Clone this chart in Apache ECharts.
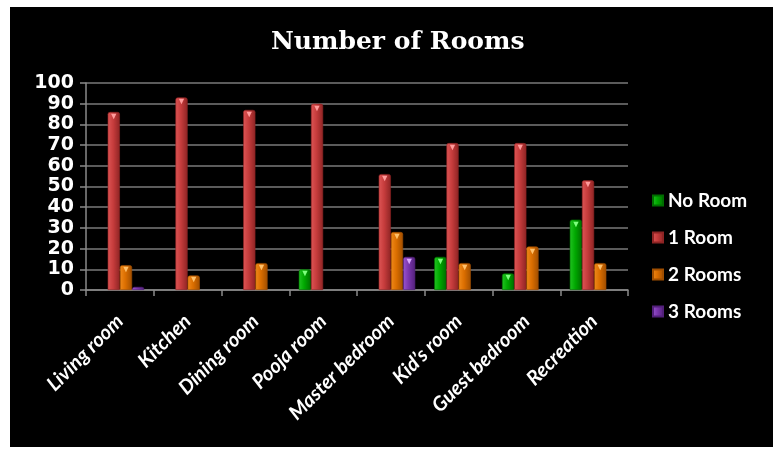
<!DOCTYPE html>
<html>
<head>
<meta charset="utf-8">
<style>
  html, body { margin: 0; padding: 0; background: #ffffff; width: 775px; height: 449px; overflow: hidden; }
  #chart { position: absolute; left: 10px; top: 7px; width: 763px; height: 440px; background: #000000; }
</style>
<script src="https://cdn.jsdelivr.net/npm/echarts@6/dist/echarts.min.js"></script>
</head>
<body>
<div id="chart"></div>
<script>
// Rooms surveyed and how many of each a home has
const categories = ['Living room', 'Kitchen', 'Dining room', 'Pooja room', 'Master bedroom', "Kid\u2019s room", 'Guest bedroom', 'Recreation'];
const noRoom    = [0, 0, 0, 10, 0, 16, 8, 34];
const oneRoom   = [86, 93, 87, 90, 56, 71, 71, 53];
const twoRooms  = [12, 7, 13, 0, 28, 13, 21, 13];
const threeRooms = [1.5, 0, 0, 0, 16, 0, 0, 0];
const yTicks = { min: 0, max: 100, interval: 10 };

// Offsets of the plot inside the black panel (panel starts at 10,7 in the page)
const OX = 10, OY = 7, PW = 763, PH = 440;

function shade(light, mid, dark) {
  return new echarts.graphic.LinearGradient(0, 0, 1, 0, [
    { offset: 0, color: light },
    { offset: 0.45, color: mid },
    { offset: 1, color: dark }
  ]);
}

function makeSeries(name, data, colors, capColor) {
  return {
    name: name,
    type: 'bar',
    // an empty count draws no bar at all
    data: data.map(v => (v === 0 ? '-' : v)),
    barGap: '0%',
    barCategoryGap: '28%',
    itemStyle: {
      color: shade(colors[0], colors[1], colors[2]),
      borderColor: colors[2],
      borderWidth: 0.6,
      borderRadius: [2, 2, 0, 0]
    },
    label: {
      show: true,
      position: 'insideTop',
      distance: 0,
      color: capColor,
      fontSize: 9,
      lineHeight: 9,
      formatter: p => (p.value >= 4 ? '\u25BC' : '')
    },
    emphasis: { disabled: true }
  };
}

const chart = echarts.init(document.getElementById('chart'), null, { renderer: 'canvas' });
chart.setOption({
  backgroundColor: '#000000',
  animation: false,
  title: {
    text: 'Number of Rooms',
    left: 271 - OX,
    top: 23,
    textStyle: { fontFamily: 'DejaVu Serif', fontWeight: 'bold', fontSize: 25, color: '#ffffff' },
    padding: 0
  },
  legend: {
    orient: 'vertical',
    left: 647 - OX,
    top: 186 - OY,
    itemWidth: 10,
    itemHeight: 10,
    itemGap: 18,
    icon: 'rect',
    textStyle: { color: '#ffffff', fontFamily: 'Lato', fontWeight: 'bold', fontSize: 19 },
    data: ['No Room', '1 Room', '2 Rooms', '3 Rooms']
  },
  grid: {
    left: 86 - OX,
    top: 83 - OY,
    right: (OX + PW) - 628,
    bottom: (OY + PH) - 290,
    containLabel: false
  },
  xAxis: {
    type: 'category',
    data: categories,
    axisLine: { lineStyle: { color: '#8a8a8a', width: 1.5 } },
    axisTick: { show: true, length: 6, lineStyle: { color: '#8a8a8a', width: 1.5 } },
    axisLabel: {
      rotate: 45,
      interval: 0,
      margin: 28,
      color: '#ffffff',
      fontFamily: 'Lato',
      fontStyle: 'italic',
      fontWeight: 'bold',
      fontSize: 20
    }
  },
  yAxis: {
    type: 'value',
    min: yTicks.min,
    max: yTicks.max,
    interval: yTicks.interval,
    axisLine: { show: true, lineStyle: { color: '#8a8a8a', width: 1.5 } },
    axisTick: { show: true, length: 6, lineStyle: { color: '#8a8a8a', width: 1.5 } },
    splitLine: { lineStyle: { color: '#7a7a7a', width: 1.5 } },
    axisLabel: {
      showMinLabel: true,
      showMaxLabel: true,
      color: '#ffffff',
      fontFamily: 'DejaVu Sans',
      fontWeight: 'bold',
      fontSize: 19,
      margin: 12
    }
  },
  series: [
    makeSeries('No Room', noRoom, ['#22c422', '#00a800', '#006e00'], '#7dff7d'),
    makeSeries('1 Room', oneRoom, ['#dd5555', '#c63c3c', '#8e2424'], '#ff9c9c'),
    makeSeries('2 Rooms', twoRooms, ['#f08a1a', '#db6e00', '#a04e00'], '#ffc06a'),
    makeSeries('3 Rooms', threeRooms, ['#9a55d0', '#7a36ad', '#52207a'], '#d9a8ff')
  ]
});
</script>
</body>
</html>
